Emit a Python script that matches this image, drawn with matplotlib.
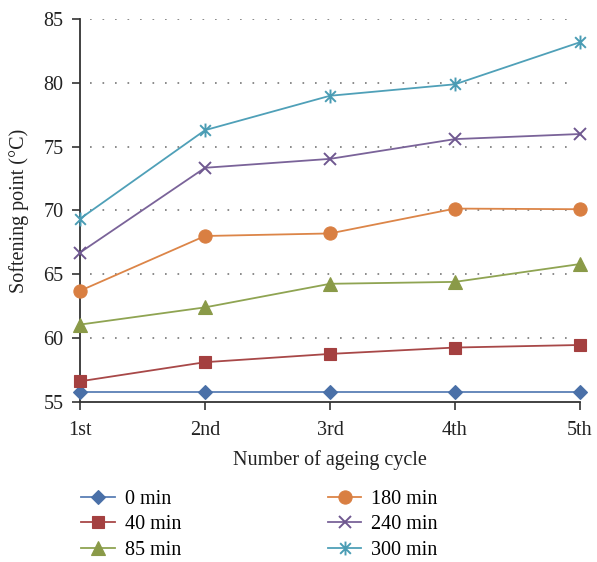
import matplotlib
matplotlib.use("Agg")
import matplotlib.pyplot as plt
from matplotlib.path import Path

cycles = ["1st", "2nd", "3rd", "4th", "5th"]
series_labels = ["0 min", "40 min", "85 min", "180 min", "240 min", "300 min"]
v0 = [55.75, 55.75, 55.75, 55.75, 55.75]
v40 = [56.6, 58.1, 58.75, 59.25, 59.45]
v85 = [61.05, 62.4, 64.25, 64.4, 65.8]
v180 = [63.7, 68.0, 68.2, 70.15, 70.1]
v240 = [66.7, 73.35, 74.05, 75.6, 76.0]
v300 = [69.35, 76.3, 79.0, 79.9, 83.2]
yticks = [55, 60, 65, 70, 75, 80, 85]

plt.rcParams['font.family'] = ['Liberation Serif', 'DejaVu Serif']
FS = 14.5

star = Path([(-1, -1), (1, 1), (-1, 1), (1, -1), (0, -1.3), (0, 1.3)],
            [Path.MOVETO, Path.LINETO, Path.MOVETO, Path.LINETO, Path.MOVETO, Path.LINETO])

styles = [
    dict(color="#4A70A8", marker="D", ms=7, lc="#5A7FB5"),
    dict(color="#A44040", marker="s", ms=8.5, lc="#A84848"),
    dict(color="#8A9A48", marker="^", ms=9.5, lc="#8FA452"),
    dict(color="#D97F42", marker="o", ms=9.5, lc="#DC8548"),
    dict(color="#6F5890", marker="x", ms=9, lc="#7A6399"),
    dict(color="#4A9CB4", marker=star, ms=10, lc="#4FA0B8"),
]
data = [v0, v40, v85, v180, v240, v300]

fig = plt.figure(figsize=(5.97, 5.62), dpi=100)
ax = fig.add_axes([0.134, 0.2852, 0.8375, 0.6805])
x = list(range(len(cycles)))
for vals, lab, st in zip(data, series_labels, styles):
    mk = st["marker"]
    unfilled = mk in ("x",) or isinstance(mk, Path)
    ax.plot(x, vals, color=st["lc"], lw=1.3, marker=mk, ms=st["ms"],
            markerfacecolor=st["color"], markeredgecolor=st["color"],
            markeredgewidth=1.4 if unfilled else 0.8, label=lab, clip_on=False, zorder=3)

ax.set_xlim(0, 4)
ax.set_ylim(55, 85)
ax.set_xticks(x)
ax.set_xticklabels(cycles)
ax.set_yticks(yticks)
for yv in yticks[1:]:
    ax.plot([0.08, 3.97], [yv, yv], color="#777777", lw=1.2, ls=(0, (1, 6.5)), zorder=1)
for s in ["top", "right"]:
    ax.spines[s].set_visible(False)
for s in ["left", "bottom"]:
    ax.spines[s].set_color("#333333")
    ax.spines[s].set_linewidth(1.3)
ax.tick_params(axis='both', direction='out', length=6, width=1.2, color="#333333",
               labelsize=FS, labelcolor="#222222")
ax.tick_params(axis='x', pad=8)
ax.tick_params(axis='y', pad=6)
ax.set_ylabel("Softening point (°C)", fontsize=FS, color="#222222", labelpad=10)
ax.set_xlabel("Number of ageing cycle", fontsize=FS, color="#222222", labelpad=7)

leg = fig.legend(loc="upper left", bbox_to_anchor=(0.123, 0.142), ncol=2, frameon=False,
                 fontsize=FS, handlelength=1.65, handletextpad=0.5, columnspacing=7.3,
                 labelspacing=0.3, borderaxespad=0)
fig.savefig("out.png", dpi=100)
